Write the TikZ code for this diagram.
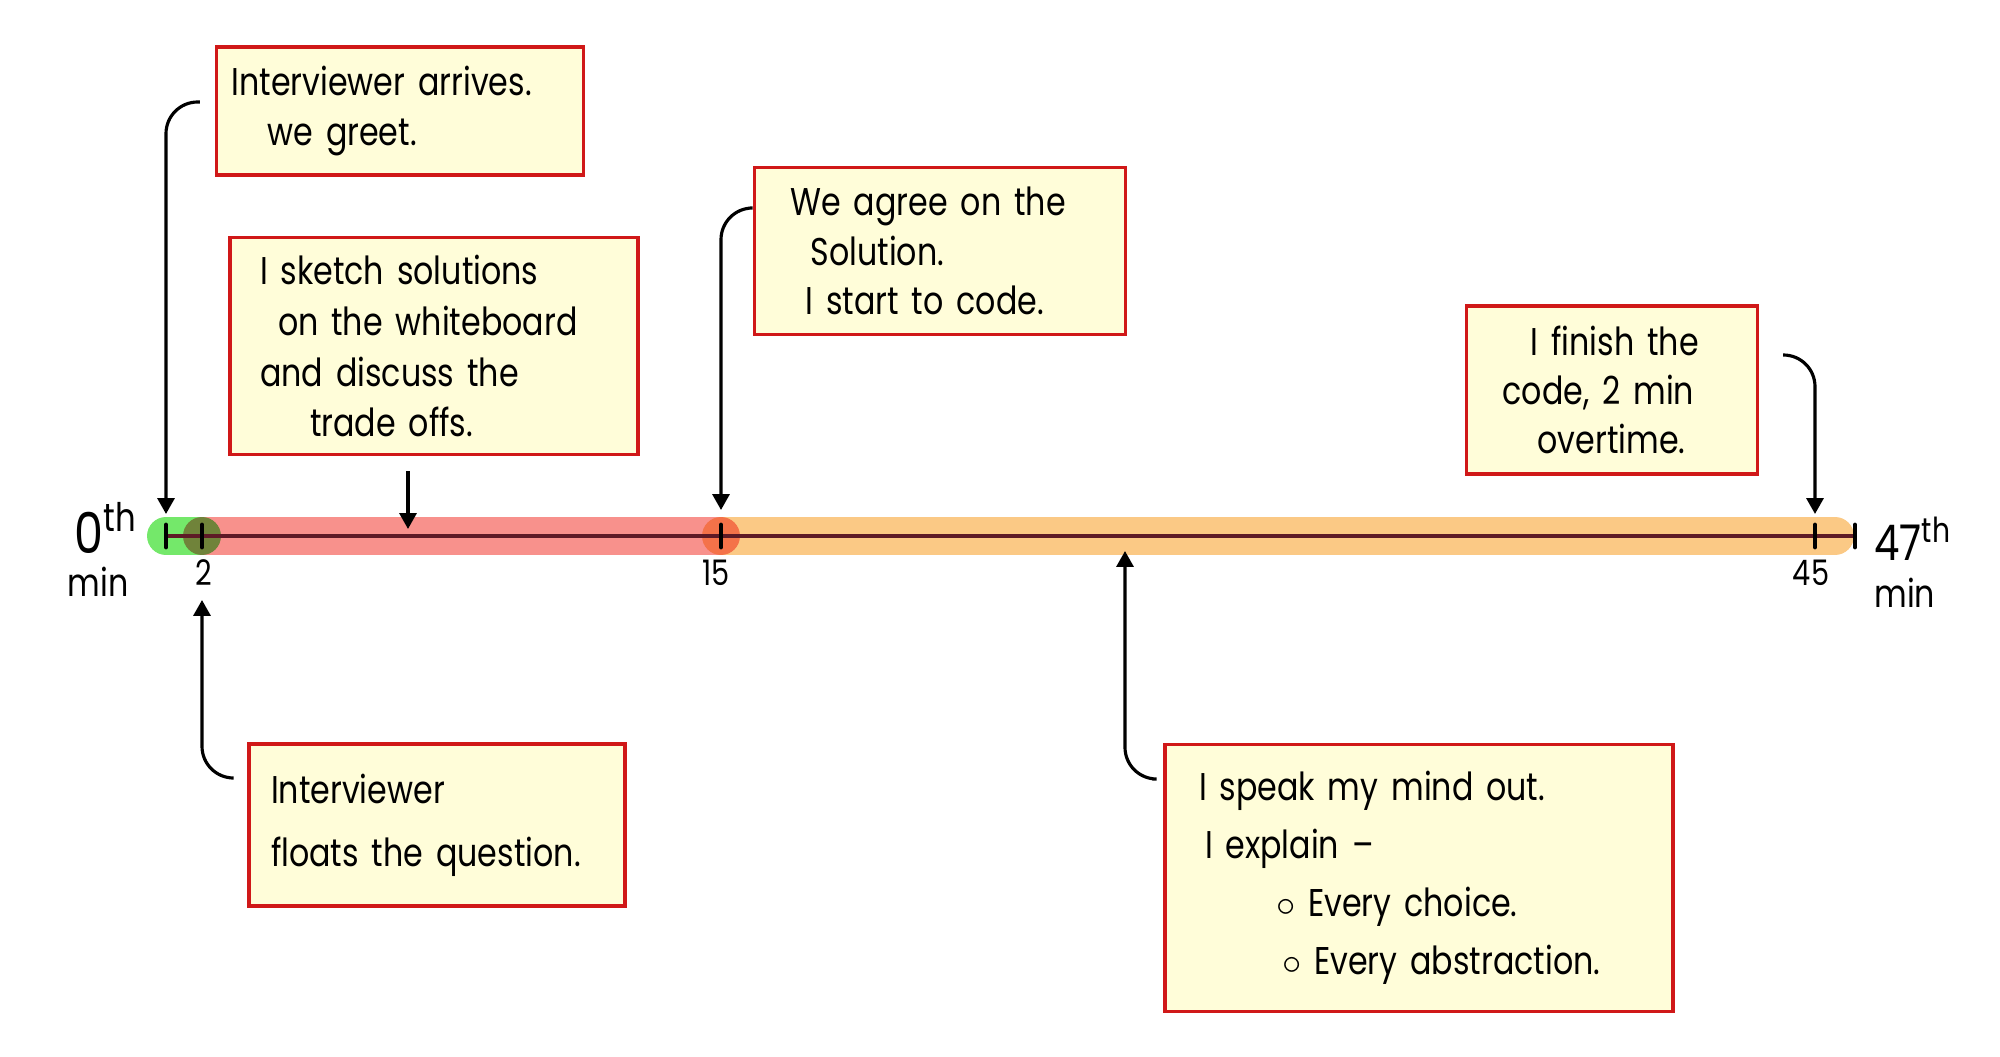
\documentclass[tikz,border=0pt]{standalone}
\usepackage{fontspec}
\setmainfont{Poppins}[FakeStretch=0.82]
\usepackage{tikz}
\usetikzlibrary{arrows.meta,positioning}
\definecolor{NoteFill}{HTML}{FFFDD9}
\definecolor{NoteEdge}{HTML}{D01818}
\definecolor{BarGreen}{HTML}{74E86A}
\definecolor{BarRed}{HTML}{F8918C}
\definecolor{BarOrange}{HTML}{FBC985}
\definecolor{Axis}{HTML}{5E1A26}

\begin{document}
\begin{tikzpicture}[font=\fontsize{11}{14}\selectfont,
    note/.style={draw=NoteEdge,fill=NoteFill,line width=0.9pt,align=left,inner sep=0pt},
    arr/.style={-{Triangle[length=4.5pt,width=4.8pt]},line width=0.9pt,rounded corners=9pt},
    bar/.style={line width=10.8pt,line cap=round}]
    \useasboundingbox (0,0) rectangle (20,10.56);

    % minutes on the time line
    \foreach \m/\x in {0/1.66,2/2.02,15/7.21,45/18.15,47/18.55}{
      \coordinate (t\m) at (\x,5.20);
    }
    \draw[bar,BarGreen] (t0) -- (t2);
    \draw[bar,BarOrange,shorten >=0.2cm] (t15) -- (t47);
    \draw[bar,BarRed,blend mode=multiply] (t2) -- (t15);
    \draw[Axis,line width=0.9pt] (t0) -- (t47);
    \foreach \m in {0,2,15,45,47}{
      \draw[line width=1.4pt,line cap=round] ([yshift=-0.11cm]t\m) -- ([yshift=0.11cm]t\m);
    }

    \node[anchor=east,font=\fontsize{16}{18}\selectfont] (zero) at (1.50,5.28) {0\textsuperscript{th}};
    \node (zeromin) at (0.98,4.74) {min};
    \node[font=\fontsize{10}{12}\selectfont] (lbltwo) at (2.04,4.83) {2};
    \node[font=\fontsize{10}{12}\selectfont] (lblfifteen) at (7.16,4.83) {15};
    \node[font=\fontsize{10}{12}\selectfont] (lblfortyfive) at (18.11,4.83) {45};
    \node[anchor=west,font=\fontsize{14}{16}\selectfont] (last) at (18.62,5.17) {47\textsuperscript{th}};
    \node[anchor=west] (lastmin) at (18.62,4.63) {min};

    % notes
    \node[note,minimum width=3.67cm,minimum height=1.28cm,text width=3.37cm] (greet) at (4.00,9.45)
      {Interviewer arrives.\\\hspace*{0.36cm}we greet.};
    \node[note,minimum width=4.08cm,minimum height=2.17cm,text width=3.48cm,
      font=\fontsize{11}{14.5}\selectfont] (sketch) at (4.34,7.10)
      {I sketch solutions\\\hspace*{0.18cm}on the whiteboard\\and discuss the\\\hspace*{0.5cm}trade offs.};
    \node[note,minimum width=3.71cm,minimum height=1.67cm,text width=2.99cm] (agree) at (9.40,8.05)
      {We agree on the\\\hspace*{0.2cm}Solution.\\\hspace*{0.15cm}I start to code.};
    \node[note,minimum width=2.91cm,minimum height=1.68cm,text width=2.19cm] (finish) at (16.12,6.66)
      {\hspace*{0.28cm}I finish the\\code, 2 min\\\hspace*{0.35cm}overtime.};
    \node[note,minimum width=3.76cm,minimum height=1.62cm,text width=3.32cm,
      font=\fontsize{11}{18}\selectfont] (floats) at (4.37,2.31)
      {Interviewer\\floats the question.};
    \node[note,minimum width=5.08cm,minimum height=2.67cm,text width=4.40cm,
      font=\fontsize{11}{16.5}\selectfont] (explain) at (14.19,1.78)
      {I speak my mind out.\\\hspace*{0.06cm}I explain --\\\hspace*{0.77cm}$\circ$ Every choice.\\\hspace*{0.83cm}$\circ$ Every abstraction.};

    % pointers to the time line
    \coordinate (sk) at (4.08,5.27);
    \coordinate (sp) at (11.25,5.05);
    \draw[arr] ([xshift=-0.15cm,yshift=0.09cm]greet.west) -| ([yshift=0.22cm]t0);
    \draw[arr] (sketch.south -| sk) ++(0,-0.15) -- (sk);
    \draw[arr] ([xshift=-0.03cm,yshift=0.43cm]agree.west) -| ([yshift=0.26cm]t15);
    \draw[arr] ([xshift=0.24cm,yshift=0.35cm]finish.east) -| ([yshift=0.22cm]t45);
    \draw[arr] ([xshift=-0.16cm,yshift=0.47cm]floats.west) -| ([yshift=-0.64cm]t2);
    \draw[arr] ([xshift=-0.11cm,yshift=0.99cm]explain.west) -| (sp);
\end{tikzpicture}
\end{document}
